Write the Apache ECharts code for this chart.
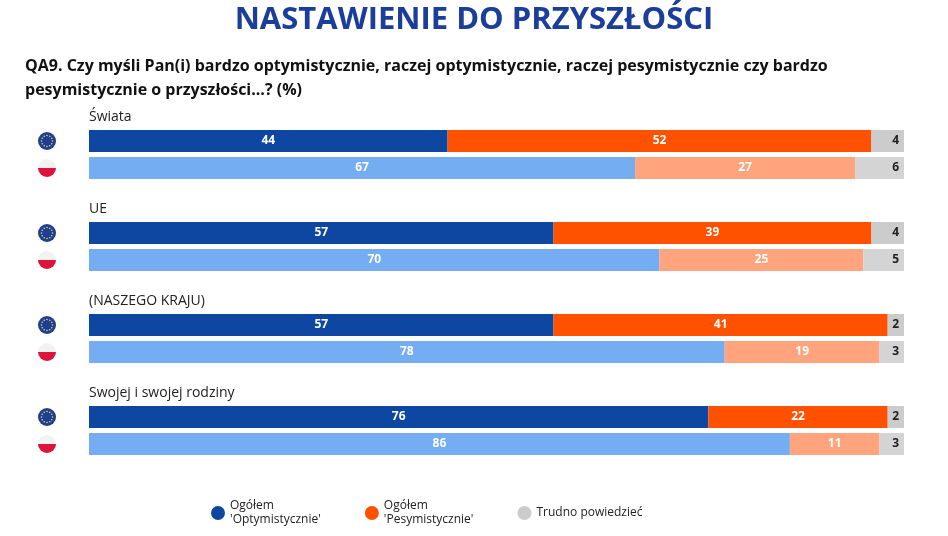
<!DOCTYPE html>
<html><head><meta charset="utf-8">
<script src="https://cdn.jsdelivr.net/npm/echarts@6/dist/echarts.min.js"></script>
<style>body{margin:0}#c{width:948px;height:536px}</style></head>
<body><div id="c"></div>
<script>
var groups = ['Świata', 'UE', '(NASZEGO KRAJU)', 'Swojej i swojej rodziny'];
var rows = ['EU', 'PL'];
var optEU = [44, 57, 57, 76], pesEU = [52, 39, 41, 22], dkEU = [4, 4, 2, 2];
var optPL = [67, 70, 78, 86], pesPL = [27, 25, 19, 11], dkPL = [6, 5, 3, 3];
var names = ["Ogółem\n'Optymistycznie'", "Ogółem\n'Pesymistycznie'", 'Trudno powiedzieć'];
var colEU = ['#0d47a1', '#ff5100', '#cccccc'];
var colPL = ['#74adf2', '#ffa47c', '#d4d4d4'];

var chart = echarts.init(document.getElementById('c'));
var grids = [], xAxes = [], yAxes = [], series = [], graphic = [];
var vals = [[optEU, optPL], [pesEU, pesPL], [dkEU, dkPL]];
groups.forEach(function (g, i) {
  var top = 127.5 + 92 * i;
  grids.push({left: 89, width: 815, top: top, height: 54});
  xAxes.push({gridIndex: i, type: 'value', min: 0, max: 100, show: false});
  yAxes.push({gridIndex: i, type: 'category', data: rows, inverse: true, show: false});
  for (var k = 0; k < 3; k++) {
    series.push({
      name: names[k], type: 'bar', stack: 's' + i, xAxisIndex: i, yAxisIndex: i,
      barWidth: 22, itemStyle: {color: colEU[k]},
      label: {show: true, color: k == 2 ? '#222' : '#fff', fontWeight: 'bold', fontSize: 12,
        position: k == 2 ? 'insideRight' : 'inside', fontFamily: 'Open Sans'},
      data: [{value: vals[k][0][i], itemStyle: {color: colEU[k]}},
             {value: vals[k][1][i], itemStyle: {color: colPL[k]},
              label: {color: k == 2 ? '#222' : '#fff'}}]
    });
  }
  graphic.push({type: 'text', left: 89, top: 110 + 92 * i,
    style: {text: g, font: '14px "Open Sans"', fill: '#222'}});
  var cy = 141 + 92 * i;
  graphic.push({type: 'circle', shape: {cx: 47, cy: cy, r: 9}, style: {fill: '#1a3e9a'}});
  for (var s = 0; s < 12; s++) {
    var a = s * Math.PI / 6;
    graphic.push({type: 'circle', shape: {cx: 47 + 5.5 * Math.cos(a), cy: cy + 5.5 * Math.sin(a), r: 0.8},
      style: {fill: '#ffd600'}});
  }
  var py = cy + 27;
  graphic.push({type: 'sector', shape: {cx: 47, cy: py, r: 9, startAngle: Math.PI, endAngle: 2 * Math.PI},
    style: {fill: '#f2f2f2'}});
  graphic.push({type: 'sector', shape: {cx: 47, cy: py, r: 9, startAngle: 0, endAngle: Math.PI},
    style: {fill: '#dc143c'}});
});

chart.setOption({
  animation: false,
  title: [
    {text: 'NASTAWIENIE DO PRZYSZŁOŚCI', left: 'center', top: 0,
      textStyle: {color: '#1a3e9a', fontSize: 31, fontWeight: 'bold', fontFamily: 'Open Sans'}},
    {text: 'QA9. Czy myśli Pan(i) bardzo optymistycznie, raczej optymistycznie, raczej pesymistycznie czy bardzo\npesymistycznie o przyszłości...? (%)',
      left: 20, top: 49,
      textStyle: {color: '#111', fontSize: 16, fontWeight: 'bold', lineHeight: 24, fontFamily: 'Open Sans'}}
  ],
  legend: {data: names, left: 206, top: 494, icon: 'circle', itemWidth: 14, itemHeight: 14,
    itemGap: 44, textStyle: {fontSize: 12, color: '#222', fontFamily: 'Open Sans', lineHeight: 14}},
  grid: grids, xAxis: xAxes, yAxis: yAxes, series: series, graphic: graphic
});
</script></body></html>
